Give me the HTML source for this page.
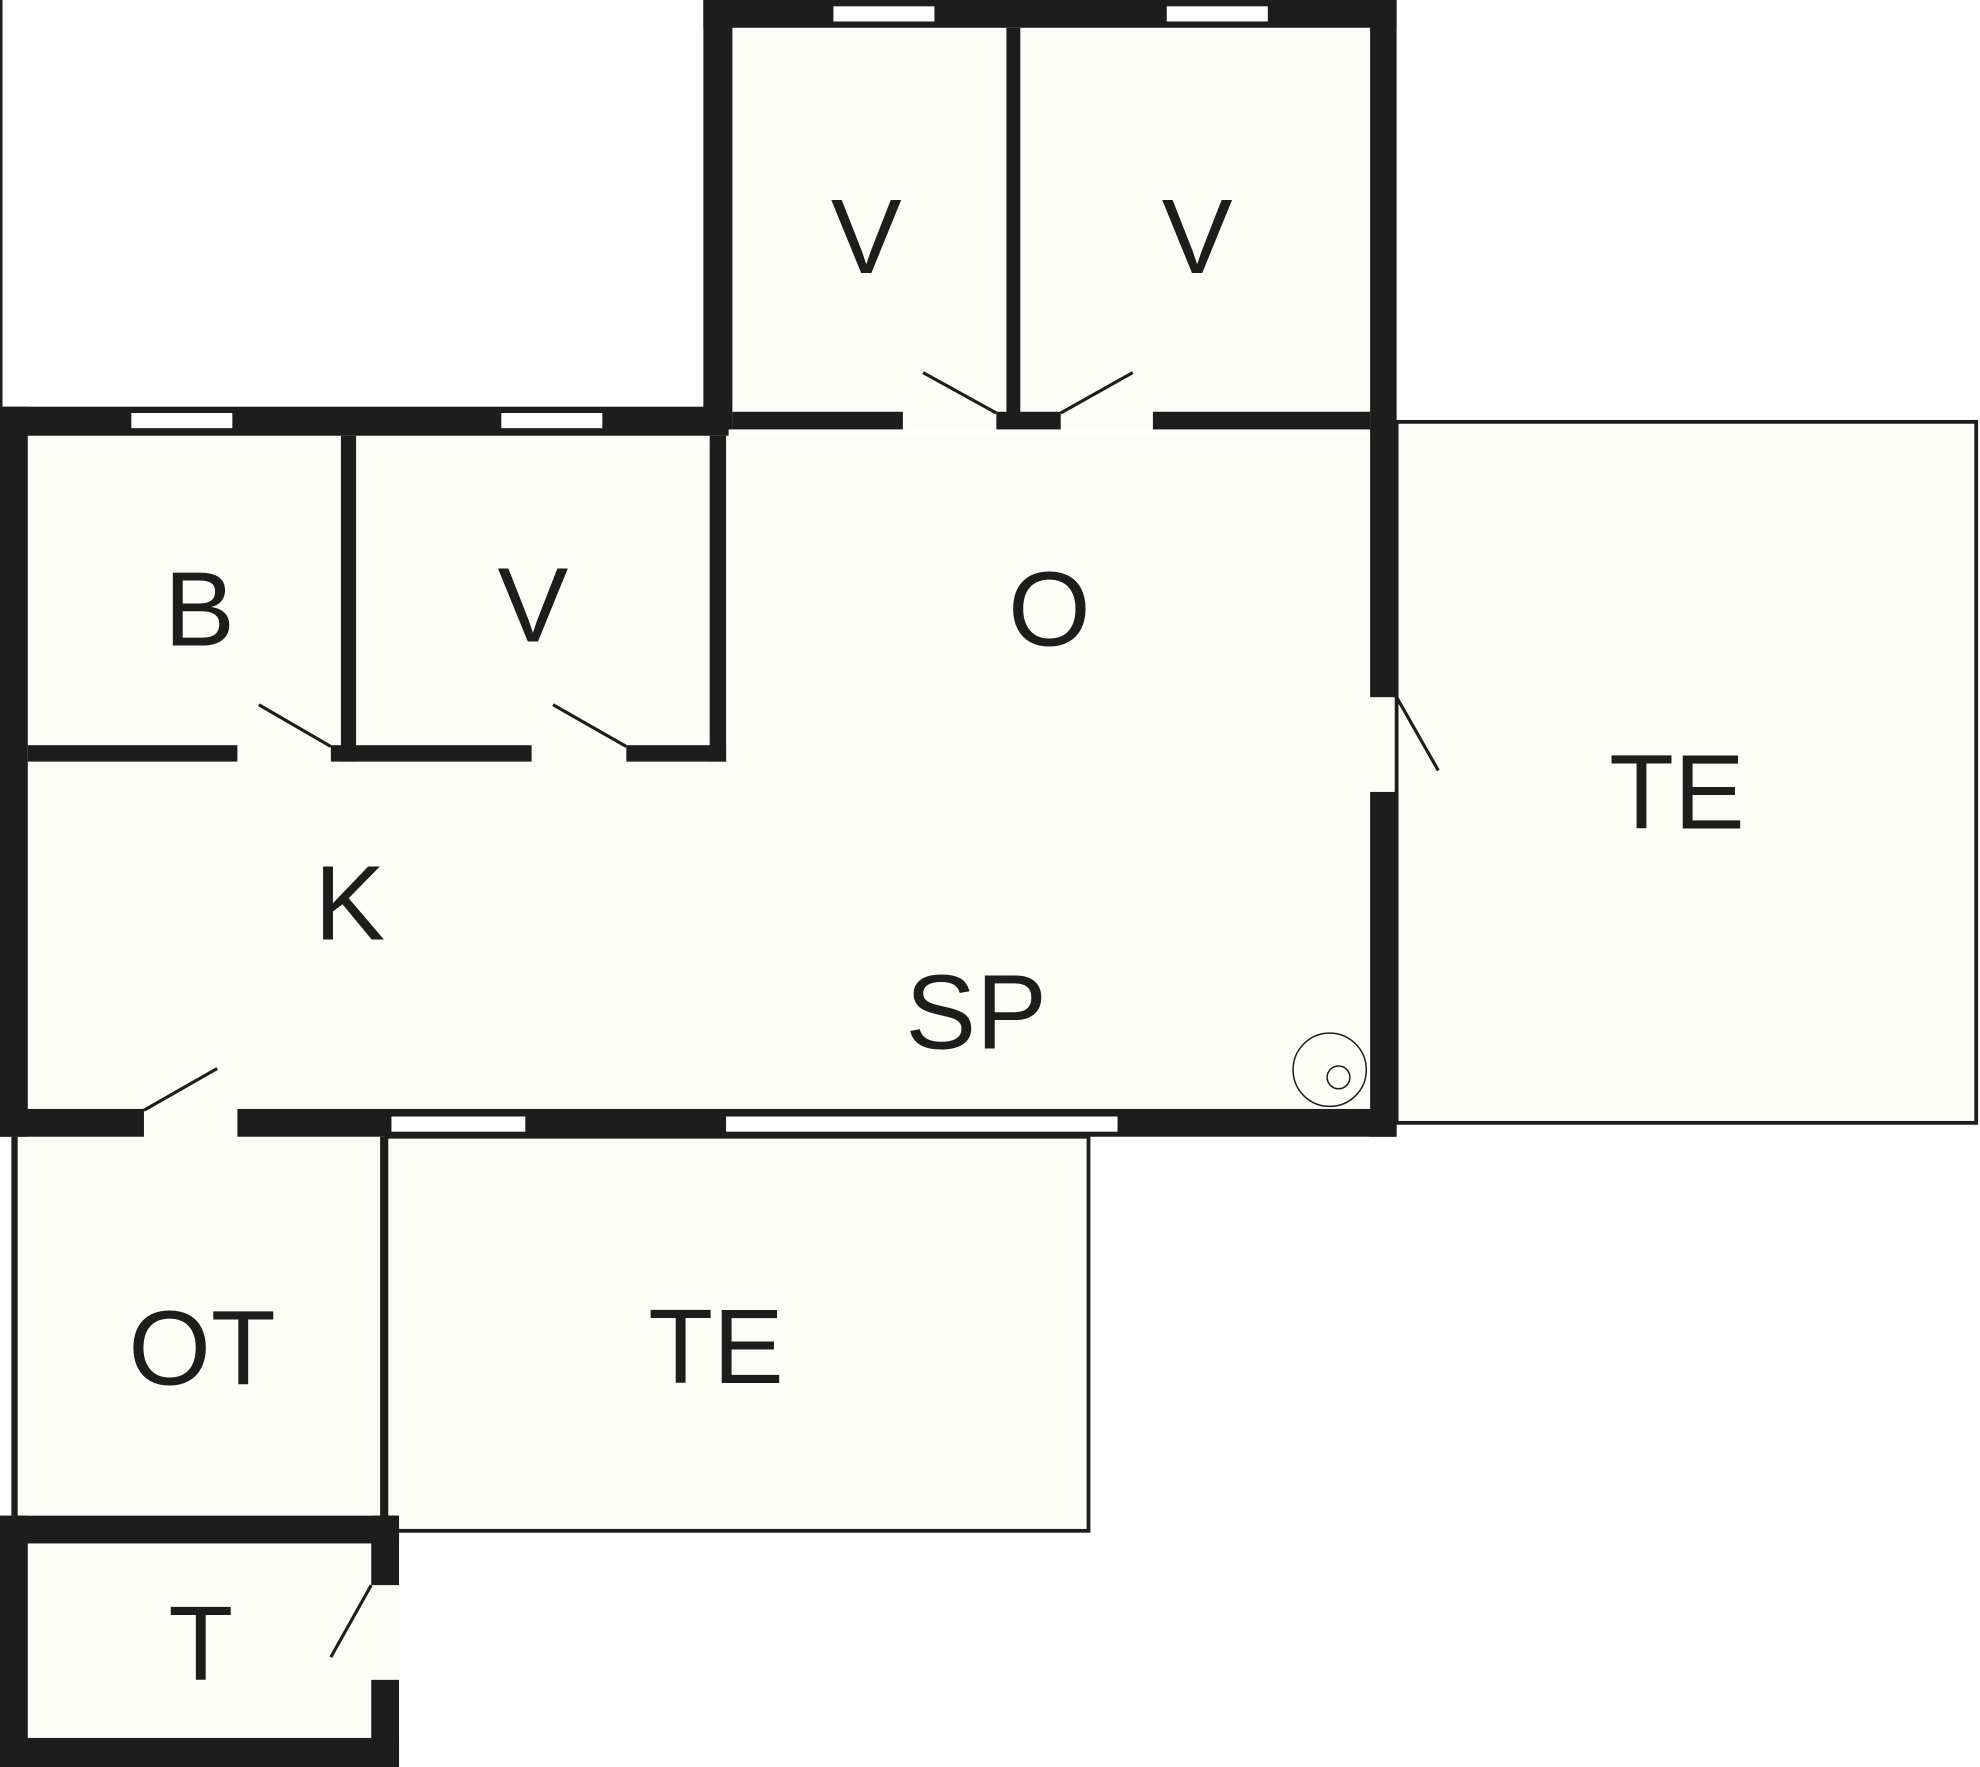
<!DOCTYPE html>
<html><head><style>
html,body{margin:0;padding:0;background:#fff;}
svg{display:block;}
text{font-family:"Liberation Sans",sans-serif;font-size:84px;fill:#1d1d1d;text-anchor:middle;}
</style></head><body>
<svg width="1980" height="1767" viewBox="0 0 1568 1399" preserveAspectRatio="none" xmlns="http://www.w3.org/2000/svg">
<rect width="1568" height="1399" fill="#fff"/>
<g fill="#fdfdf8">
<rect x="580" y="22" width="505" height="318"/>
<rect x="22" y="345" width="1063" height="533"/>
<rect x="1106" y="335" width="460" height="555"/>
<rect x="305" y="900" width="558" height="313"/>
<rect x="14" y="900" width="287" height="300"/>
<rect x="22" y="1222" width="272" height="154"/>
<rect x="114" y="878" width="74" height="22"/>
<rect x="1085" y="552" width="21" height="75"/>
<rect x="294" y="1255" width="22" height="75"/>
</g>
<g fill="#1d1d1d">
<rect x="0" y="0" width="2" height="322"/>
<rect x="557" y="0" width="549" height="22"/>
<rect x="557" y="0" width="23" height="340"/>
<rect x="1085" y="0" width="21" height="552"/>
<rect x="797" y="22" width="11" height="310"/>
<rect x="580" y="326" width="135" height="14"/>
<rect x="789" y="326" width="51" height="14"/>
<rect x="913" y="326" width="172" height="14"/>
<rect x="0" y="322" width="577" height="23"/>
<rect x="0" y="322" width="22" height="578"/>
<rect x="270" y="345" width="12" height="258"/>
<rect x="562" y="345" width="13" height="258"/>
<rect x="22" y="590" width="166" height="13"/>
<rect x="262" y="590" width="159" height="13"/>
<rect x="496" y="590" width="79" height="13"/>
<rect x="1085" y="627" width="21" height="273"/>
<rect x="0" y="878" width="114" height="22"/>
<rect x="188" y="878" width="918" height="22"/>
<rect x="9" y="900" width="5" height="300"/>
<rect x="301" y="900" width="5" height="300"/>
<rect x="0" y="1200" width="316" height="22"/>
<rect x="0" y="1200" width="22" height="199"/>
<rect x="0" y="1376" width="316" height="23"/>
<rect x="294" y="1200" width="22" height="55"/>
<rect x="294" y="1330" width="22" height="69"/>
</g>
<g fill="#fff">
<rect x="660" y="5" width="80" height="12"/>
<rect x="924" y="5" width="80" height="12"/>
<rect x="104" y="327" width="80" height="12"/>
<rect x="397" y="327" width="80" height="12"/>
<rect x="310" y="884" width="106" height="12"/>
<rect x="575" y="884" width="310" height="12"/>
</g>
<g fill="none" stroke="#1d1d1d" stroke-width="3">
<rect x="1106" y="334" width="459" height="555"/>
<rect x="306" y="900" width="556" height="312"/>
</g>
<g stroke="#1d1d1d" stroke-width="2.5" fill="none">
<line x1="205" y1="558" x2="262" y2="591"/>
<line x1="438" y1="558" x2="496" y2="591"/>
<line x1="731" y1="295" x2="789" y2="327"/>
<line x1="897" y1="295" x2="840" y2="327"/>
<line x1="1106" y1="552" x2="1139" y2="610"/>
<line x1="114" y1="879" x2="172" y2="846"/>
<line x1="294" y1="1255" x2="262" y2="1312"/>
</g>
<g stroke="#1d1d1d" stroke-width="1.2" fill="none">
<circle cx="1053" cy="847" r="29"/>
<circle cx="1060" cy="853" r="9"/>
</g>
<text x="686" y="216">V</text>
<text x="948" y="216">V</text>
<text x="158" y="511">B</text>
<text x="422" y="508">V</text>
<text x="831" y="511">O</text>
<text x="1328" y="656">TE</text>
<text x="277" y="744">K</text>
<text x="773" y="830">SP</text>
<text x="160" y="1096">OT</text>
<text x="567" y="1095">TE</text>
<text x="159" y="1330">T</text>
</svg>
</body></html>
